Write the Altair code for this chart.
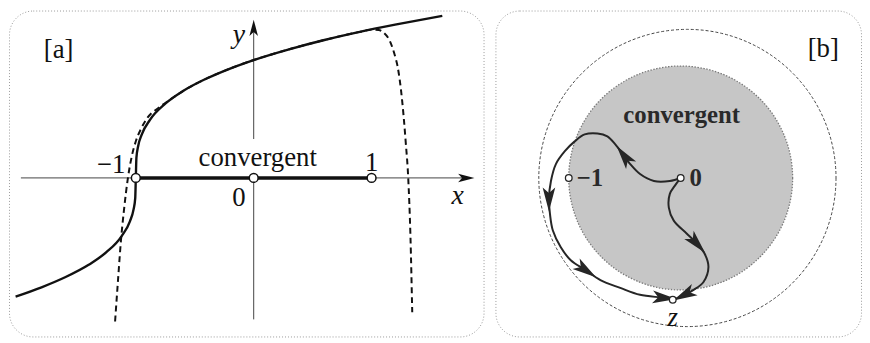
import altair as alt
import pandas as pd

SERIF = "Liberation Serif"

# ---------------- panel [a] data (math units) ----------------
solid_x = [-2.02, -1.8, -1.6, -1.4, -1.25, -1.12, -1.05, -1.02, -1.005, -1.0, -0.995,
           -0.98, -0.95, -0.88, -0.75, -0.6, -0.4, -0.2, 0.0, 0.3, 0.6, 0.9, 1.2, 1.6]
solid_y = [-1.007, -0.928, -0.843, -0.737, -0.630, -0.493, -0.368, -0.271, -0.171, 0.0, 0.171,
           0.271, 0.368, 0.493, 0.630, 0.737, 0.843, 0.928, 1.0, 1.091, 1.170, 1.239, 1.300, 1.375]

dash_x = [-1.176, -1.151, -1.126, -1.101, -1.067, -1.034, -1.0, -0.958, -0.899, -0.8, -0.7,
          -0.6, -0.4, -0.2, 0.0, 0.3, 0.6, 0.9, 1.0, 1.06, 1.1, 1.16, 1.2, 1.22, 1.26, 1.29,
          1.311, 1.33, 1.345]
dash_y = [-1.218, -0.866, -0.529, -0.277, 0.0, 0.185, 0.311, 0.412, 0.513, 0.60, 0.67,
          0.737, 0.843, 0.928, 1.0, 1.091, 1.17, 1.239, 1.258, 1.255, 1.235, 1.15, 1.03, 0.95,
          0.65, 0.3, 0.0, -0.5, -1.14]

a_point_x = [-1.0, 0.0, 1.0]

axis_x = [-1.975, 0.0, 0.0]
axis_x2 = [1.78, 0.0, 0.0]
axis_y = [0.0, 0.33, -1.2]
axis_y2 = [0.0, 1.25, 0.0]

a_arrow_x = [1.80, 0.0]
a_arrow_y = [0.0, 1.27]
a_arrow_ang = [90, 0]

a_text = ["[a]", "\u22121", "1", "0", "convergent"]
a_text_x = [-1.655, -1.21, 1.0, -0.126, 0.034]
a_text_y = [1.084, 0.11, 0.125, -0.17, 0.165]
a_ital = ["y", "x"]
a_ital_x = [-0.126, 1.731]
a_ital_y = [1.21, -0.151]

# ---------------- panel [b] data (complex plane units) ----------------
pathA_u = [0.0, -0.097, -0.239, -0.363, -0.451, -0.504, -0.584, -0.655, -0.743, -0.858, -0.947,
           -1.035, -1.115, -1.159, -1.177, -1.168, -1.142, -1.071, -0.982, -0.850, -0.717,
           -0.540, -0.363, -0.150, -0.071]
pathA_v = [0.0, -0.027, -0.027, 0.035, 0.124, 0.195, 0.301, 0.372, 0.398, 0.389, 0.327,
           0.239, 0.124, -0.027, -0.186, -0.319, -0.469, -0.619, -0.735, -0.823, -0.912,
           -0.982, -1.044, -1.071, -1.088]
pathB_u = [0.0, -0.053, -0.097, -0.106, -0.062, 0.053, 0.142, 0.212, 0.248, 0.204, 0.115,
           0.035, -0.071]
pathB_v = [0.0, -0.071, -0.142, -0.265, -0.381, -0.496, -0.584, -0.673, -0.796, -0.929, -1.0,
           -1.044, -1.088]

b_arrow_u = [-0.504, -1.177, -0.850, -0.150, 0.142, 0.035]
b_arrow_v = [0.195, -0.186, -0.823, -1.071, -0.584, -1.044]
b_arrow_ang = [323, 180, 124, 95, 138, 243]

b_point_u = [-1.0, 0.0, -0.071]
b_point_v = [0.0, 0.0, -1.088]

b_text = ["[b]", "convergent", "0"]
b_text_u = [1.274, 0.009, 0.133]
b_text_v = [1.15, 0.566, 0.0]

ARROW = "M0,-1L0.5,0.9L0,0.45L-0.5,0.9Z"

# ---------------- panel [a] ----------------
axA = dict(axis=None)
sxa = alt.Scale(domain=[-2.076, 1.950], nice=False, zero=False)
sya = alt.Scale(domain=[-1.345, 1.420], nice=False, zero=False)

axes_df = pd.DataFrame({"x": axis_x, "x2": axis_x2, "y": axis_y, "y2": axis_y2})
axes_a = alt.Chart(axes_df).mark_rule(color="#444", strokeWidth=1).encode(
    x=alt.X("x:Q", scale=sxa, **axA), x2="x2:Q",
    y=alt.Y("y:Q", scale=sya, **axA), y2="y2:Q")

seg_df = pd.DataFrame({"x": [a_point_x[0]], "x2": [a_point_x[2]], "y": [0.0]})
seg_a = alt.Chart(seg_df).mark_rule(color="#111", strokeWidth=3.5).encode(
    x=alt.X("x:Q", scale=sxa, **axA), x2="x2:Q", y=alt.Y("y:Q", scale=sya, **axA))

solid_df = pd.DataFrame({"x": solid_x, "y": solid_y})
solid_a = alt.Chart(solid_df).mark_line(color="#111", strokeWidth=2.4, interpolate="monotone").encode(
    x=alt.X("x:Q", scale=sxa, **axA), y=alt.Y("y:Q", scale=sya, **axA))

dash_df = pd.DataFrame({"x": dash_x, "y": dash_y})
dash_a = alt.Chart(dash_df).mark_line(color="#111", strokeWidth=2, strokeDash=[6, 4],
                                      interpolate="monotone").encode(
    x=alt.X("x:Q", scale=sxa, **axA), y=alt.Y("y:Q", scale=sya, **axA))

pts_df = pd.DataFrame({"x": a_point_x, "y": [0.0] * len(a_point_x)})
pts_a = alt.Chart(pts_df).mark_point(shape="circle", filled=True, fill="white", stroke="#111",
                                     strokeWidth=1.5, size=80, opacity=1).encode(
    x=alt.X("x:Q", scale=sxa, **axA), y=alt.Y("y:Q", scale=sya, **axA))

arr_df = pd.DataFrame({"x": a_arrow_x, "y": a_arrow_y, "a": a_arrow_ang})
arr_a = alt.Chart(arr_df).mark_point(shape=ARROW, filled=True, color="#111", size=300,
                                     opacity=1).encode(
    x=alt.X("x:Q", scale=sxa, **axA), y=alt.Y("y:Q", scale=sya, **axA),
    angle=alt.Angle("a:Q", scale=None))

txt_df = pd.DataFrame({"t": a_text, "x": a_text_x, "y": a_text_y})
txt_a = alt.Chart(txt_df).mark_text(font=SERIF, fontSize=27, color="#111", baseline="middle",
                                    align="center").encode(
    x=alt.X("x:Q", scale=sxa, **axA), y=alt.Y("y:Q", scale=sya, **axA), text="t:N")

it_df = pd.DataFrame({"t": a_ital, "x": a_ital_x, "y": a_ital_y})
it_a = alt.Chart(it_df).mark_text(font=SERIF, fontSize=28, fontStyle="italic", color="#111",
                                  baseline="middle", align="center").encode(
    x=alt.X("x:Q", scale=sxa, **axA), y=alt.Y("y:Q", scale=sya, **axA), text="t:N")

panel_a = alt.layer(axes_a, seg_a, dash_a, solid_a, pts_a, arr_a, txt_a, it_a).properties(
    width=479, height=329)

# ---------------- panel [b] ----------------
sxb = alt.Scale(domain=[-1.655, 1.611], nice=False, zero=False)
syb = alt.Scale(domain=[-1.416, 1.496], nice=False, zero=False)

outer_df = pd.DataFrame({"u": [0.06], "v": [0.0]})
outer_b = alt.Chart(outer_df).mark_point(shape="circle", filled=False, stroke="#444",
                                         strokeWidth=1, strokeDash=[3, 2], size=90000,
                                         opacity=1).encode(
    x=alt.X("u:Q", scale=sxb, axis=None), y=alt.Y("v:Q", scale=syb, axis=None))

disk_df = pd.DataFrame({"u": [0.0], "v": [0.0]})
disk_b = alt.Chart(disk_df).mark_point(shape="circle", filled=True, fill="#c6c6c6",
                                       stroke="#7a7a7a", strokeWidth=1.3, strokeDash=[1.5, 1.5],
                                       size=51076, opacity=1).encode(
    x=alt.X("u:Q", scale=sxb, axis=None), y=alt.Y("v:Q", scale=syb, axis=None))

pa_df = pd.DataFrame({"u": pathA_u, "v": pathA_v, "i": list(range(len(pathA_u)))})
pb_df = pd.DataFrame({"u": pathB_u, "v": pathB_v, "i": list(range(len(pathB_u)))})

def path_layer(df):
    return alt.Chart(df).mark_line(color="#262626", strokeWidth=2,
                                   interpolate="catmull-rom").encode(
        x=alt.X("u:Q", scale=sxb, axis=None), y=alt.Y("v:Q", scale=syb, axis=None),
        order="i:Q")

barr_df = pd.DataFrame({"u": b_arrow_u, "v": b_arrow_v, "a": b_arrow_ang})
barr = alt.Chart(barr_df).mark_point(shape=ARROW, filled=True, color="#262626", size=650,
                                     opacity=1).encode(
    x=alt.X("u:Q", scale=sxb, axis=None), y=alt.Y("v:Q", scale=syb, axis=None),
    angle=alt.Angle("a:Q", scale=None))

bpts_df = pd.DataFrame({"u": b_point_u, "v": b_point_v})
bpts = alt.Chart(bpts_df).mark_point(shape="circle", filled=True, fill="white", stroke="#262626",
                                     strokeWidth=1.3, size=45, opacity=1).encode(
    x=alt.X("u:Q", scale=sxb, axis=None), y=alt.Y("v:Q", scale=syb, axis=None))

btxt_df = pd.DataFrame({"t": b_text, "u": b_text_u, "v": b_text_v})
btxt1 = alt.Chart(btxt_df.iloc[[0]]).mark_text(font=SERIF, fontSize=27, color="#111",
                                              baseline="middle", align="center").encode(
    x=alt.X("u:Q", scale=sxb, axis=None), y=alt.Y("v:Q", scale=syb, axis=None), text="t:N")
btxt2 = alt.Chart(btxt_df.iloc[[1, 2]]).mark_text(font=SERIF, fontSize=25, fontWeight="bold",
                                                 color="#2a2a2a", baseline="middle",
                                                 align="center").encode(
    x=alt.X("u:Q", scale=sxb, axis=None), y=alt.Y("v:Q", scale=syb, axis=None), text="t:N")

m1_df = pd.DataFrame({"t": ["\u22121"], "u": [-0.93], "v": [0.0]})
m1 = alt.Chart(m1_df).mark_text(font=SERIF, fontSize=25, fontWeight="bold", color="#2a2a2a",
                                baseline="middle", align="left").encode(
    x=alt.X("u:Q", scale=sxb, axis=None), y=alt.Y("v:Q", scale=syb, axis=None), text="t:N")

z_df = pd.DataFrame({"t": ["z"], "u": [-0.071], "v": [-1.248]})
zt = alt.Chart(z_df).mark_text(font=SERIF, fontSize=27, fontStyle="italic", color="#111",
                               baseline="middle", align="center").encode(
    x=alt.X("u:Q", scale=sxb, axis=None), y=alt.Y("v:Q", scale=syb, axis=None), text="t:N")

panel_b = alt.layer(outer_b, disk_b, path_layer(pa_df), path_layer(pb_df), barr, bpts,
                    btxt1, btxt2, m1, zt).properties(width=369, height=329)

chart = alt.hconcat(panel_a, panel_b, spacing=10).properties(
    padding=0, background="white"
).configure_view(
    stroke="#9a9a9a", strokeWidth=1, strokeDash=[1, 2], cornerRadius=24
)

chart.save("out.html", embed_options={"renderer": "svg", "actions": False})
